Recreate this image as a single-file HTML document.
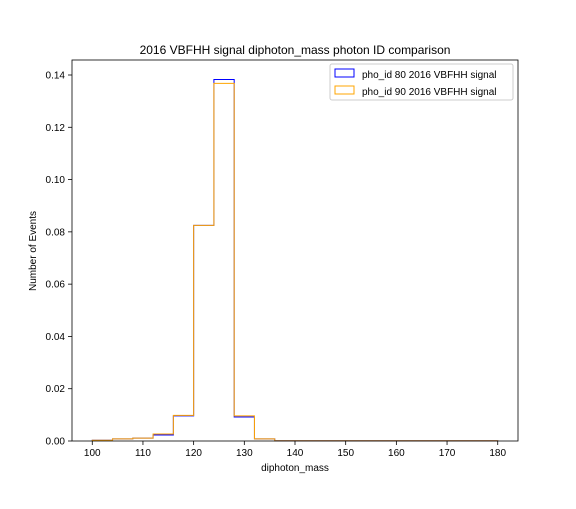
<!DOCTYPE html>
<html><head><meta charset="utf-8"><style>
body{margin:0;background:#fff;font-family:"Liberation Sans",sans-serif}
svg text{font-family:"Liberation Sans","DejaVu Sans",sans-serif;fill:#000}
</style></head><body>
<svg id="chart" width="576" height="504" viewBox="0 0 576 504" xmlns="http://www.w3.org/2000/svg">
<rect width="576" height="504" fill="#fff"/>
<text x="295" y="54" font-size="12" text-anchor="middle">2016 VBFHH signal diphoton_mass photon ID comparison</text>
<g id="series"></g>
<g id="axes"></g>
<text x="295" y="471" font-size="10" text-anchor="middle">diphoton_mass</text>
<text x="0" y="0" font-size="10" text-anchor="middle" transform="translate(36,251) rotate(-90)">Number of Events</text>
<g>
<rect x="330" y="64" width="183" height="36" fill="#fff" stroke="#ccc" rx="2"/>
<rect x="335" y="69" width="19" height="8" fill="none" stroke="blue"/>
<text x="362" y="78" font-size="10">pho_id 80 2016 VBFHH signal</text>
<rect x="335" y="86" width="19" height="8" fill="none" stroke="orange"/>
<text x="362" y="95" font-size="10">pho_id 90 2016 VBFHH signal</text>
</g>
</svg>
<script>
const binEdges=[100,104,108,112,116,120,124,128,132,136,140,144,148,152,156,160,164,168,172,176,180];
const phoId80=[0.0003,0.0008,0.0011,0.0023,0.0096,0.0825,0.1383,0.0092,0.0008,0.0001,0.0001,0.0001,0.0001,0.0001,0.0001,0.0001,0.0001,0.0001,0.0001,0.0001];
const phoId90=[0.0003,0.0008,0.0011,0.0027,0.0098,0.0825,0.1368,0.0096,0.0008,0.0001,0.0001,0.0001,0.0001,0.0001,0.0001,0.0001,0.0001,0.0001,0.0001,0.0001];
const xTicks=[100,110,120,130,140,150,160,170,180];
const yTicks=[0,0.02,0.04,0.06,0.08,0.10,0.12,0.14];
const L=72,R=518,T=60,B=441;
const x=v=>L+(v-96)*(R-L)/88;
const y=v=>B-v*366/0.14;
const NS='http://www.w3.org/2000/svg';
function mk(tag,attrs){const e=document.createElementNS(NS,tag);for(const k in attrs)e.setAttribute(k,attrs[k]);return e;}
const series=document.getElementById('series');
function step(vals,color,name){
  let d='M'+x(binEdges[0])+','+y(0);
  vals.forEach((v,i)=>{d+=' L'+x(binEdges[i])+','+y(v)+' L'+x(binEdges[i+1])+','+y(v);});
  d+=' L'+x(binEdges[binEdges.length-1])+','+y(0);
  const p=mk('path',{d:d,fill:'none',stroke:color,'stroke-width':1});
  
  
  series.appendChild(p);
}
step(phoId80,'blue','series-pho-id-80');
step(phoId90,'orange','series-pho-id-90');
const axes=document.getElementById('axes');
const frame=mk('rect',{x:L,y:T,width:R-L,height:B-T,fill:'none',stroke:'#000','stroke-width':0.8});


axes.appendChild(frame);
xTicks.forEach(t=>{
  const g=mk('g',{});
  
  
  g.appendChild(mk('line',{x1:x(t),x2:x(t),y1:B,y2:B+4,stroke:'#000','stroke-width':0.8}));
  const tx=mk('text',{x:x(t),y:B+15,'font-size':10,'text-anchor':'middle'});tx.textContent=t;g.appendChild(tx);
  axes.appendChild(g);
});
yTicks.forEach(t=>{
  const g=mk('g',{});
  
  
  g.appendChild(mk('line',{x1:L-4,x2:L,y1:y(t),y2:y(t),stroke:'#000','stroke-width':0.8}));
  const tx=mk('text',{x:L-7,y:y(t)+3.5,'font-size':10,'text-anchor':'end'});tx.textContent=t.toFixed(2);g.appendChild(tx);
  axes.appendChild(g);
});
</script>
</body></html>
